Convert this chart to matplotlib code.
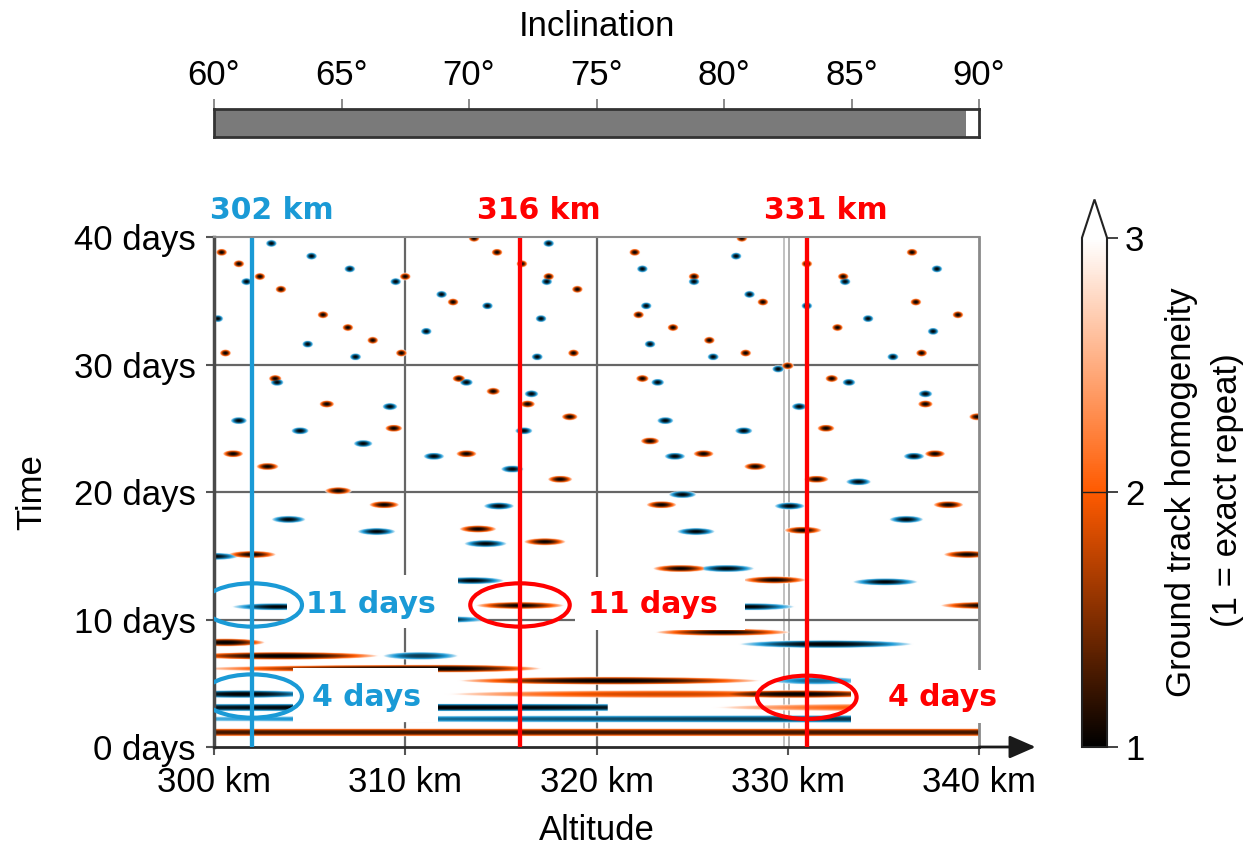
import numpy as np
import matplotlib
matplotlib.use("Agg")
import matplotlib.pyplot as plt
from matplotlib.colors import LinearSegmentedColormap, Normalize
from matplotlib.patches import Ellipse, Rectangle, FancyArrowPatch
from matplotlib.colorbar import ColorbarBase

plt.rcParams['font.family'] = ['Liberation Sans', 'DejaVu Sans']
plt.rcParams['font.size'] = 25

# ---------------- data ----------------
# near-repeat solutions (altitude km, repeat period days), orange family
orange_alt = [300.4, 301.3, 302.4, 310.0, 303.5, 312.5, 305.7, 307.0, 308.3, 300.6, 309.8,
              303.2, 312.8, 305.9, 309.4, 301.0, 313.2, 302.8, 306.5,
              313.6, 314.8, 316.1, 317.5, 319.0, 318.8, 322.0, 325.1, 322.2, 324.0, 325.9,
              314.6, 316.4, 318.6, 318.1, 322.4, 322.8, 325.6,
              327.6, 331.0, 332.9, 328.7, 332.6, 336.5, 336.7, 338.9, 327.8, 337.0,
              330.0, 332.3, 337.2, 339.9, 332.0, 337.7, 328.3, 331.5,
              308.9, 302.0, 323.4, 313.8, 317.3, 324.4, 316.0, 338.4, 330.8, 329.3, 339.4, 340.3, 326.6]
orange_day = [38.8, 37.9, 36.9, 36.9, 35.9, 34.9, 33.9, 32.9, 31.9, 30.9, 30.9,
              28.9, 28.9, 26.9, 25.0, 23.0, 23.0, 22.0, 20.1,
              39.9, 38.8, 37.9, 36.9, 35.9, 30.9, 38.8, 36.9, 33.9, 32.9, 31.9,
              27.9, 26.9, 25.9, 21.0, 28.9, 24.0, 23.0,
              39.9, 37.9, 36.9, 34.9, 32.9, 38.8, 34.9, 33.9, 30.9, 30.9,
              29.9, 28.9, 26.9, 25.9, 25.0, 23.0, 22.0, 21.0,
              19.0, 15.1, 19.0, 17.1, 16.1, 14.0, 11.1, 19.0, 17.0, 13.1, 15.1, 11.1, 9.0]

# blue family
blue_alt = [303.0, 305.1, 307.1, 301.7, 309.5, 311.9, 300.2, 311.1, 304.9, 307.4,
            303.3, 313.2, 309.2, 301.3, 304.5, 307.8, 311.5,
            317.5, 317.4, 314.3, 317.1, 316.9, 322.4, 325.1, 322.6, 322.8, 326.1,
            316.6, 316.2, 315.6, 323.2, 323.6, 324.1,
            327.3, 333.0, 328.0, 331.0, 334.2, 337.8, 337.6, 335.5,
            329.5, 333.2, 337.2, 330.6, 327.7, 336.6, 333.7,
            303.9, 308.5, 300.0, 324.5, 314.9, 325.2, 314.2, 326.8, 313.5, 311.5,
            330.1, 336.2, 335.1, 328.0, 303.3]
blue_day = [39.5, 38.5, 37.5, 36.5, 36.5, 35.5, 33.6, 32.6, 31.6, 30.6,
            28.6, 28.6, 26.7, 25.6, 24.8, 23.8, 22.8,
            39.5, 36.5, 34.6, 33.6, 30.6, 37.5, 36.5, 34.6, 31.6, 30.6,
            27.7, 24.8, 21.8, 28.6, 25.6, 22.8,
            38.5, 36.5, 35.5, 34.6, 33.6, 37.5, 32.6, 30.6,
            29.65, 28.6, 27.7, 26.7, 24.8, 22.8, 20.8,
            17.85, 16.9, 14.95, 19.8, 18.9, 16.9, 15.95, 14.0, 13.05, 10.0,
            18.9, 17.85, 12.95, 11.0, 11.0]

# short repeat periods: broad streaks (centre, day, left/right half-width, minimum value, family, cut-off)
streak_alt = [300.6, 332.0, 303.5, 310.8, 312.0, 320.7, 331.5, 301.5, 324.0, 330.5, 310.0, 336.0, 345.0, 320.0]
streak_day = [8.2, 8.07, 7.15, 7.15, 6.15, 5.2, 5.2, 4.15, 4.15, 4.15, 3.1, 3.1, 2.2, 1.15]
streak_left = [2.1, 4.6, 5.0, 2.0, 13.0, 8.0, 2.5, 4.0, 12.0, 5.0, 30.0, 10.0, 60.0, 200.0]
streak_right = [2.1, 4.6, 5.2, 2.0, 5.2, 8.0, 2.5, 4.0, 8.0, 5.0, 30.0, 10.0, 60.0, 200.0]
streak_floor = [1.0, 1.0, 1.0, 1.4, 1.0, 1.0, 1.7, 1.0, 1.8, 1.0, 1.0, 2.0, 1.3, 1.25]
streak_kind = ['o', 'b', 'o', 'b', 'o', 'o', 'b', 'b', 'o', 'o', 'b', 'o', 'b', 'o']
streak_stop = [340, 340, 340, 340, 340, 340, 340, 340, 340, 340, 320.6, 340, 340, 340]

inclination_value = 89.5
marked_alt = [302, 316, 331]
marked_color = ['#1a9ad6', '#ff0000', '#ff0000']
repeat_days = [11, 4]

cbar_ticks = [1, 2, 3]
alt_ticks = [300, 310, 320, 330, 340]
day_ticks = [0, 10, 20, 30, 40]
inc_ticks = [60, 65, 70, 75, 80, 85, 90]

# ---------------- homogeneity field ----------------
cmap_o = LinearSegmentedColormap.from_list('homog_o', ['#000000', '#ff5a00', '#ffffff'])
cmap_b = LinearSegmentedColormap.from_list('homog_b', ['#000000', '#1d9bd8', '#ffffff'])

XRES, YRES = 0.025, 0.04
xs = np.arange(300 + XRES / 2, 340, XRES)
ys = np.arange(0 + YRES / 2, 40, YRES)
val = np.full((ys.size, xs.size), 3.0)
kind = np.zeros((ys.size, xs.size), dtype=np.int8)


def stamp(alt, day, left, right, floor, k, hi=340.0, hv=0.3, p=2.0):
    x0, x1 = max(alt - left, 300.0), min(alt + right, hi)
    i0, i1 = np.searchsorted(xs, x0), np.searchsorted(xs, x1)
    j0, j1 = np.searchsorted(ys, day - hv), np.searchsorted(ys, day + hv)
    if i1 <= i0 or j1 <= j0:
        return
    X = xs[i0:i1][None, :]
    Y = ys[j0:j1][:, None]
    dx = np.where(X < alt, (X - alt) / left, (X - alt) / right)
    dy = (Y - day) / hv
    r = np.minimum(np.sqrt(dx ** 2 + dy ** 2), 1.0)
    v = floor + (3 - floor) * r ** p
    sub = val[j0:j1, i0:i1]
    ksub = kind[j0:j1, i0:i1]
    m = v < sub
    sub[m] = v[m]
    ksub[m] = k


def half_width(day):
    return max(290.0 / day ** 2, 0.3)


for a, d in zip(orange_alt, orange_day):
    w = half_width(d)
    stamp(a, d, w, w, 1.0, 0)
for a, d in zip(blue_alt, blue_day):
    w = half_width(d)
    stamp(a, d, w, w, 1.0, 1)
for a, d, l, r, f, k, s in zip(streak_alt, streak_day, streak_left, streak_right,
                               streak_floor, streak_kind, streak_stop):
    stamp(a, d, l, r, f, 0 if k == 'o' else 1, hi=s, hv=0.32, p=2.5)

nv = (val - 1) / 2
rgba = np.where((kind == 1)[..., None], cmap_b(nv, bytes=True), cmap_o(nv, bytes=True))
rgba[..., 3] = (np.clip((3 - val) * 4, 0, 1) * 255).astype(np.uint8)

# ---------------- figure ----------------
W, H = 1257, 852
fig = plt.figure(figsize=(W / 100, H / 100), dpi=100)


def box(x0, y0, x1, y1):
    return [x0 / W, 1 - y1 / H, (x1 - x0) / W, (y1 - y0) / H]


ax = fig.add_axes(box(214, 237.5, 979, 747))
ax.imshow(rgba, extent=(300, 340, 0, 40), origin='lower', aspect='auto',
          interpolation='bilinear', zorder=2)
ax.set_xlim(300, 340)
ax.set_ylim(0, 40)

for g in [310, 320]:
    ax.axvline(g, color='#666666', lw=1.6, zorder=1)
ax.axvline(329.8, color='#bdbdbd', lw=1.3, zorder=1)
ax.axvline(330.05, color='#a8a8a8', lw=1.3, zorder=1)
for g in [10, 20, 30]:
    ax.axhline(g, color='#666666', lw=1.6, zorder=1)

ax.set_xticks(alt_ticks)
ax.set_xticklabels([f"{v} km" for v in alt_ticks])
ax.set_yticks(day_ticks)
ax.set_yticklabels([f"{v} days" for v in day_ticks])
ax.tick_params(axis='both', direction='out', length=6, width=1.5, color='#555555',
               labelsize=25)
ax.tick_params(axis='x', pad=8)
ax.tick_params(axis='y', pad=7)

ax.spines['left'].set_color('#4a4a4a')
ax.spines['left'].set_linewidth(2.5)
ax.spines['bottom'].set_color('#2a2a2a')
ax.spines['bottom'].set_linewidth(2.0)
ax.spines['top'].set_color('#8a8a8a')
ax.spines['top'].set_linewidth(1.5)
ax.spines['right'].set_color('#8a8a8a')
ax.spines['right'].set_linewidth(2.0)

# x-axis arrow
ax.add_patch(FancyArrowPatch((1.0, 0.0), (1.074, 0.0), transform=ax.transAxes,
                             arrowstyle='-|>,head_length=0.8,head_width=0.35',
                             mutation_scale=20, color='#1a1a1a', lw=2,
                             shrinkA=0, shrinkB=0, clip_on=False, zorder=5))

# marked altitudes
for alt, col in zip(marked_alt, marked_color):
    ax.axvline(alt, color=col, lw=3.1, zorder=4)
    ax.text(alt + 1.0, 42.15, f"{alt} km", ha='center', va='center', color=col,
            fontsize=21.5, fontweight='bold', family='DejaVu Sans', clip_on=False)

# repeat-period call-outs: (altitude line, days, ellipse centre day, text pos, box)
callouts = [
    (0, repeat_days[0], 11.15, (308.2, 11.2), (303.8, 9.34, 312.76, 13.5)),
    (0, repeat_days[1], 4.0, (307.95, 3.92), (304.13, 1.96, 311.71, 6.2)),
    (1, repeat_days[0], 11.15, (322.95, 11.15), (318.87, 9.18, 327.76, 13.34)),
    (2, repeat_days[1], 3.9, (338.1, 3.92), (333.3, 1.88, 341.3, 6.04)),
]
for idx, nday, ey, (tx, ty), (bx0, by0, bx1, by1) in callouts:
    col = marked_color[idx]
    ax.add_patch(Rectangle((bx0, by0), bx1 - bx0, by1 - by0, facecolor='white',
                           edgecolor='none', zorder=5, clip_on=False))
    ax.add_patch(Ellipse((marked_alt[idx], ey), 5.2, 3.4, facecolor='none',
                         edgecolor=col, lw=3.0, zorder=6))
    ax.text(tx, ty, f"{nday} days", ha='center', va='center', color=col,
            fontsize=21.5, fontweight='bold', family='DejaVu Sans', zorder=7,
            clip_on=False)

fig.text(597 / W, 1 - 830 / H, "Altitude", ha='center', va='center', fontsize=25)
fig.text(32 / W, 1 - 492 / H, "Time", ha='center', va='center', rotation=90, fontsize=25)

# inclination bar
ax_inc = fig.add_axes(box(214, 109, 979, 137))
ax_inc.barh(0.5, inclination_value - 60, left=60, height=1.0, color='#7a7a7a')
ax_inc.set_xlim(60, 90)
ax_inc.set_ylim(0, 1)
ax_inc.set_yticks([])
ax_inc.xaxis.tick_top()
ax_inc.set_xticks(inc_ticks)
ax_inc.set_xticklabels([f"{v}°" for v in inc_ticks])
ax_inc.tick_params(axis='x', direction='out', length=7, width=1.2, color='#777777',
                   labelsize=25, pad=5)
for sp in ax_inc.spines.values():
    sp.set_color('#333333')
    sp.set_linewidth(2.0)
fig.text(597 / W, 1 - 26 / H, "Inclination", ha='center', va='center', fontsize=25)

# colour bar
cmap_cb = LinearSegmentedColormap.from_list('homog_cb', ['#000000', '#ff5a00', '#ffffff'])
cmap_cb.set_over('white')
cax = fig.add_axes(box(1082, 199.5, 1107, 747))
cb = ColorbarBase(cax, cmap=cmap_cb, norm=Normalize(1, 3), extend='max',
                  extendfrac=0.075, ticks=cbar_ticks)
cb.outline.set_color('#222222')
cb.outline.set_linewidth(1.5)
cb.ax.axhline(2, color='#222222', lw=1.0)
cb.ax.tick_params(length=8, width=1.2, color='#222222', labelsize=25, pad=5)
cb.ax.set_yticklabels([str(t) for t in cbar_ticks])

fig.text(1181 / W, 1 - 492 / H, "Ground track homogeneity", ha='center', va='center',
         rotation=90, fontsize=25)
fig.text(1228 / W, 1 - 490 / H, "(1 = exact repeat)", ha='center', va='center',
         rotation=90, fontsize=25)

fig.savefig("out.png", dpi=100)
